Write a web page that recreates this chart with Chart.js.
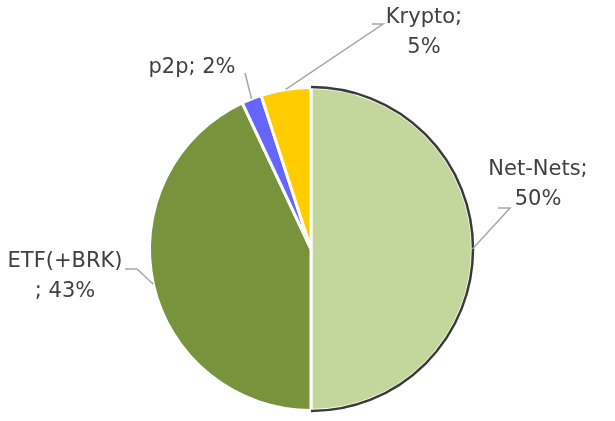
<!DOCTYPE html>
<html>
<head>
<meta charset="utf-8">
<script src="https://cdn.jsdelivr.net/npm/chart.js@4"></script>
<style>
html,body{margin:0;padding:0;background:#fff;}
#wrap{width:615px;height:421px;position:relative;}
</style>
</head>
<body>
<div id="wrap"><canvas id="c" width="615" height="421"></canvas></div>
<script>
const categories = ["Net-Nets", "ETF(+BRK)", "p2p", "Krypto"];
const shares = [50, 43, 2, 5];
const sliceColors = ["#c3d69b", "#77933c", "#6666ff", "#ffcc00"];

// label layout: text lines, text centre position, leader line elbow
const labelLayout = [
  { lines: ["Net-Nets;", "50%"], x: 538, y: 170, elbow: [[510, 208], [498, 208]] },
  { lines: ["ETF(+BRK)", "; 43%"], x: 65, y: 262, elbow: [[137, 269], [125, 269]] },
  { lines: ["p2p; 2%"], x: 192, y: 68, elbow: [[245, 73]] },
  { lines: ["Krypto;", "5%"], x: 424, y: 18, elbow: [[383, 24], [372, 24]] }
];

const labelPlugin = {
  id: 'pieLabels',
  afterDatasetsDraw(chart) {
    const ctx = chart.ctx;
    const meta = chart.getDatasetMeta(0);
    // dark outline on the Net-Nets arc
    const a0 = meta.data[0];
    ctx.save();
    ctx.beginPath();
    ctx.arc(a0.x, a0.y, a0.outerRadius + 0.5, a0.startAngle, a0.endAngle);
    ctx.strokeStyle = '#3a3a3a';
    ctx.lineWidth = 2.5;
    ctx.stroke();
    ctx.restore();

    meta.data.forEach((arc, i) => {
      const L = labelLayout[i];
      const mid = (arc.startAngle + arc.endAngle) / 2;
      const r = arc.outerRadius;
      const ax = arc.x + Math.cos(mid) * r;
      const ay = arc.y + Math.sin(mid) * r;
      ctx.save();
      ctx.strokeStyle = '#a6a6a6';
      ctx.lineWidth = 1.5;
      ctx.beginPath();
      ctx.moveTo(ax, ay);
      L.elbow.forEach(p => ctx.lineTo(p[0], p[1]));
      ctx.stroke();
      ctx.fillStyle = '#404040';
      ctx.font = '21px "DejaVu Sans", sans-serif';
      ctx.textAlign = 'center';
      ctx.textBaseline = 'middle';
      L.lines.forEach((t, k) => ctx.fillText(t, L.x, L.y + k * 30));
      ctx.restore();
    });
  }
};

new Chart(document.getElementById('c'), {
  type: 'pie',
  data: {
    labels: categories,
    datasets: [{
      data: shares,
      backgroundColor: sliceColors,
      borderColor: '#ffffff',
      borderWidth: 3
    }]
  },
  options: {
    responsive: false,
    animation: false,
    layout: { padding: { top: 86, bottom: 9, left: 7, right: 0 } },
    plugins: { legend: { display: false }, tooltip: { enabled: false } }
  },
  plugins: [labelPlugin]
});
</script>
</body>
</html>
